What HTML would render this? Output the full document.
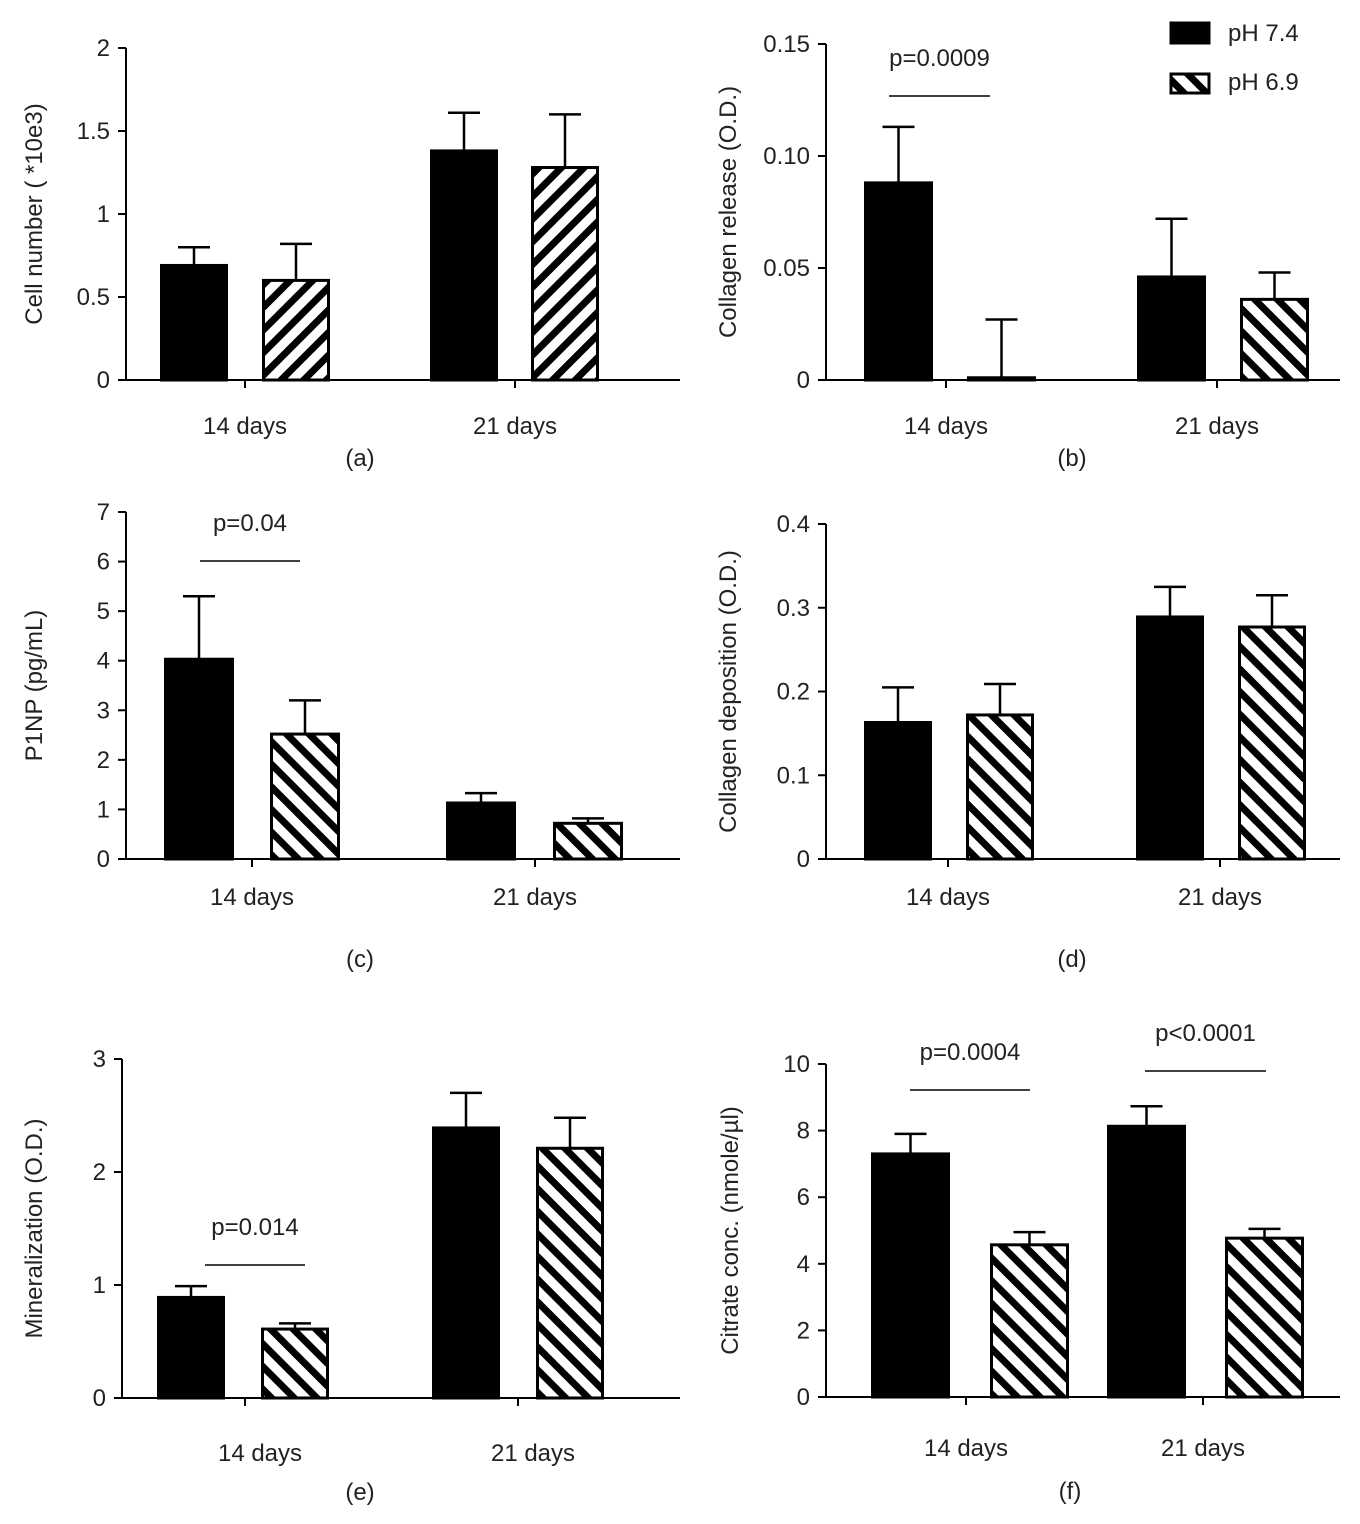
<!DOCTYPE html>
<html><head><meta charset="utf-8"><style>
body{margin:0;background:#fff;}
svg text{font-family:"Liberation Sans",Arial,sans-serif;fill:#222;}
</style></head><body>
<svg id="fig" width="1360" height="1519" viewBox="0 0 1360 1519" xmlns="http://www.w3.org/2000/svg">
<defs>
<pattern id="hatchF" patternUnits="userSpaceOnUse" width="16" height="16" patternTransform="rotate(45)"><rect width="16" height="16" fill="#fff"/><rect width="7" height="16" fill="#000"/></pattern>
<pattern id="hatchB" patternUnits="userSpaceOnUse" width="16" height="16" patternTransform="rotate(-45)"><rect width="16" height="16" fill="#fff"/><rect width="7" height="16" fill="#000"/></pattern>
</defs>
</svg>
<script>
const categories = ["14 days","21 days"];
const seriesNames = ["pH 7.4","pH 6.9"];
// panel a
const aPh74 = [0.69, 1.38], aPh69 = [0.60, 1.28], aErr74 = [0.11, 0.23], aErr69 = [0.22, 0.32];
const aTicks = ["0","0.5","1","1.5","2"];
// panel b
const bPh74 = [0.088, 0.046], bPh69 = [0.001, 0.036], bErr74 = [0.025, 0.026], bErr69 = [0.026, 0.012];
const bTicks = ["0","0.05","0.10","0.15"];
// panel c
const cPh74 = [4.03, 1.13], cPh69 = [2.52, 0.72], cErr74 = [1.27, 0.2], cErr69 = [0.68, 0.1];
const cTicks = ["0","1","2","3","4","5","6","7"];
// panel d
const dPh74 = [0.163, 0.289], dPh69 = [0.172, 0.277], dErr74 = [0.042, 0.036], dErr69 = [0.037, 0.038];
const dTicks = ["0","0.1","0.2","0.3","0.4"];
// panel e
const ePh74 = [0.89, 2.39], ePh69 = [0.61, 2.21], eErr74 = [0.10, 0.31], eErr69 = [0.05, 0.27];
const eTicks = ["0","1","2","3"];
// panel f
const fPh74 = [7.3, 8.13], fPh69 = [4.57, 4.77], fErr74 = [0.6, 0.6], fErr69 = [0.38, 0.28];
const fTicks = ["0","2","4","6","8","10"];

const NS="http://www.w3.org/2000/svg";
const svg=document.getElementById('fig');
function el(tag,attrs,parent){const e=document.createElementNS(NS,tag);for(const k in attrs)e.setAttribute(k,attrs[k]);(parent||svg).appendChild(e);return e;}
function txt(s,x,y,size,anchor,parent,extra){const t=el('text',Object.assign({x:x,y:y,'font-size':size,'text-anchor':anchor||'middle'},extra||{}),parent);t.textContent=s;return t;}
const FS=24;

const panels=[
 {id:'a',label:'(a)',title:'Cell number ( *10e3)',ax:126,y0:380,yTop:48,max:2,ticks:aTicks,xEnd:680,m:[aPh74,aPh69],e:[aErr74,aErr69],bx:[[160,262],[430,531]],bw:68,tickX:[245,515],catY:434,labY:466,labX:360,titleX:42,hatch:'hatchF',sig:[]},
 {id:'b',label:'(b)',title:'Collagen release (O.D.)',ax:826,y0:380,yTop:44,max:0.15,ticks:bTicks,xEnd:1340,m:[bPh74,bPh69],e:[bErr74,bErr69],bx:[[864,967],[1137,1240]],bw:69,tickX:[946,1217],catY:434,labY:466,labX:1072,titleX:736,hatch:'hatchB',sig:[{t:'p=0.0009',x1:889,x2:990,y:96}]},
 {id:'c',label:'(c)',title:'P1NP (pg/mL)',ax:126,y0:859,yTop:512,max:7,ticks:cTicks,xEnd:680,m:[cPh74,cPh69],e:[cErr74,cErr69],bx:[[164,270],[446,553]],bw:70,tickX:[252,535],catY:905,labY:967,labX:360,titleX:42,hatch:'hatchB',sig:[{t:'p=0.04',x1:200,x2:300,y:561}]},
 {id:'d',label:'(d)',title:'Collagen deposition (O.D.)',ax:826,y0:859,yTop:524,max:0.4,ticks:dTicks,xEnd:1340,m:[dPh74,dPh69],e:[dErr74,dErr69],bx:[[864,966],[1136,1238]],bw:68,tickX:[948,1220],catY:905,labY:967,labX:1072,titleX:736,hatch:'hatchB',sig:[]},
 {id:'e',label:'(e)',title:'Mineralization (O.D.)',ax:122,y0:1398,yTop:1059,max:3,ticks:eTicks,xEnd:680,m:[ePh74,ePh69],e:[eErr74,eErr69],bx:[[157,261],[432,536]],bw:68,tickX:[245,518],catY:1461,labY:1500,labX:360,titleX:42,hatch:'hatchB',sig:[{t:'p=0.014',x1:205,x2:305,y:1265}]},
 {id:'f',label:'(f)',title:'Citrate conc. (nmole/µl)',ax:826,y0:1397,yTop:1064,max:10,ticks:fTicks,xEnd:1340,m:[fPh74,fPh69],e:[fErr74,fErr69],bx:[[871,990],[1107,1225]],bw:79,tickX:[966,1203],catY:1456,labY:1499,labX:1070,titleX:738,hatch:'hatchB',sig:[{t:'p=0.0004',x1:910,x2:1030,y:1090},{t:'p<0.0001',x1:1145,x2:1266,y:1071}]}
];

panels.forEach(p=>{
 const g=el('g',{});
 
 
 const ys=v=>p.y0-(v/p.max)*(p.y0-p.yTop);
 const ax=el('line',{x1:p.ax,y1:p.yTop,x2:p.ax,y2:p.y0,stroke:'#000','stroke-width':2},g);
 
 
 const xa=el('line',{x1:p.ax,y1:p.y0,x2:p.xEnd,y2:p.y0,stroke:'#000','stroke-width':2},g);
 
 
 const step=p.max/(p.ticks.length-1);
 p.ticks.forEach((t,i)=>{
  const y=ys(i*step);
  el('line',{x1:p.ax-8,y1:y,x2:p.ax,y2:y,stroke:'#000','stroke-width':2},g);
  const tl=txt(t,p.ax-16,y+8,FS,'end',g);
  
  
 });
 const yt=txt(p.title,0,0,FS,'middle',g,{transform:`translate(${p.titleX},${(p.yTop+p.y0)/2}) rotate(-90)`});
 
 
 categories.forEach((c,ci)=>{
  el('line',{x1:p.tickX[ci],y1:p.y0,x2:p.tickX[ci],y2:p.y0+8,stroke:'#000','stroke-width':2},g);
  const cl=txt(c,p.tickX[ci]+(p.id==='e'?15:0),p.catY,FS,'middle',g);
  
  
  for(let s=0;s<2;s++){
   const x=p.bx[ci][s], v=p.m[s][ci], er=p.e[s][ci];
   const cx=x+p.bw/2;
   const el1=el('line',{x1:cx,y1:ys(v),x2:cx,y2:ys(v+er),stroke:'#000','stroke-width':2.5},g);
   
   
   el('line',{x1:cx-16,y1:ys(v+er),x2:cx+16,y2:ys(v+er),stroke:'#000','stroke-width':2.5},g);
   const top=ys(v), h=Math.max(p.y0-top,1);
   const r=el('rect',{x:x+1.5,y:top,width:p.bw-3,height:h,fill:s===0?'#000':`url(#${p.hatch})`,stroke:'#000','stroke-width':3},g);
   
   
  }
 });
 p.sig.forEach(s=>{
  el('line',{x1:s.x1,y1:s.y,x2:s.x2,y2:s.y,stroke:'#000','stroke-width':1.5},g);
  const st=txt(s.t,(s.x1+s.x2)/2,s.y-30,FS,'middle',g);
  
  
 });
 const pl=txt(p.label,p.labX,p.labY,FS,'middle',g);
 
 
});

// legend
const lg=el('g',{});


const l1=el('rect',{x:1171,y:23,width:38,height:20,fill:'#000',stroke:'#000','stroke-width':3},lg);


const lt1=txt(seriesNames[0],1228,41,FS,'start',lg);


const l2=el('rect',{x:1171,y:74,width:38,height:19,fill:'url(#hatchB)',stroke:'#000','stroke-width':3},lg);


const lt2=txt(seriesNames[1],1228,90,FS,'start',lg);


</script>
</body></html>
